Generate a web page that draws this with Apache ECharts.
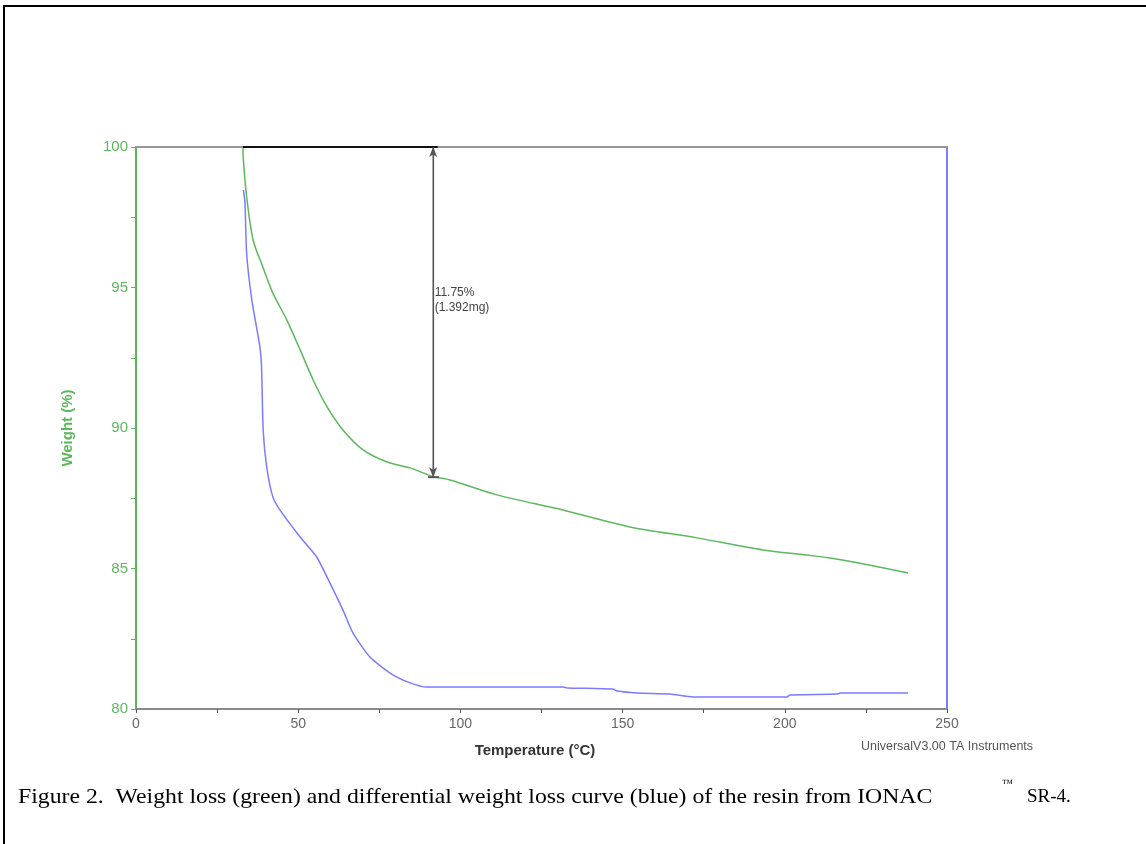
<!DOCTYPE html>
<html>
<head>
<meta charset="utf-8">
<script src="https://cdn.jsdelivr.net/npm/echarts@6/dist/echarts.min.js"></script>
<style>
html,body{margin:0;padding:0;background:#fff;}
#c{width:1146px;height:844px;}
</style>
</head>
<body>
<div id="c"></div>
<script>
// Temperature (°C) and weight (%) for the green weight-loss curve
const greenT = [33.0, 33.1, 34.1, 36.1, 39.1, 42.2, 46.5, 50.6, 54.6, 58.9, 63.8, 70.0, 77.4, 84.5, 91.6, 96.8, 111.2, 131.6, 152.3, 172.9, 193.3, 213.9, 238.0];
const greenW = [100.0, 99.54, 98.23, 96.69, 95.73, 94.80, 93.84, 92.78, 91.71, 90.75, 89.93, 89.22, 88.79, 88.58, 88.27, 88.15, 87.62, 87.08, 86.48, 86.09, 85.66, 85.37, 84.84];
// Blue differential weight-loss curve (plotted on same 80-100 scale)
const blueT = [33.1, 33.6, 34.1, 35.7, 38.2, 38.7, 39.2, 40.3, 42.2, 44.4, 50.6, 55.7, 59.8, 63.8, 66.9, 72.1, 78.3, 84.5, 89.6, 131.6, 132.9, 147.0, 148.3, 154.4, 164.6, 171.7, 200.7, 201.6, 216.1, 217.0, 238.0];
const blueW = [98.47, 98.01, 96.23, 94.56, 92.88, 92.17, 89.93, 88.61, 87.54, 87.08, 86.12, 85.41, 84.48, 83.52, 82.70, 81.85, 81.28, 80.93, 80.78, 80.78, 80.75, 80.71, 80.64, 80.57, 80.53, 80.43, 80.43, 80.50, 80.53, 80.57, 80.57];
// Annotation: step baseline and measured loss
const baselineT = [33.0, 93.0];
const baselineW = 100;
const stepT = 91.6;
const stepFrom = 100;
const stepTo = 88.25;
const stepLabel = ['11.75%', '(1.392mg)'];
const xTicks = [0, 50, 100, 150, 200, 250];
const yTicks = [80, 85, 90, 95, 100];

const chart = echarts.init(document.getElementById('c'), null, {renderer: 'canvas'});
const green = '#5cb85c';
const blue = '#7b7bff';
const grey = '#8a8a8a';
const sans = 'Liberation Sans, Arial, sans-serif';
const serif = 'Liberation Serif, Times New Roman, serif';
const caption = 'Figure 2.  Weight loss (green) and differential weight loss curve (blue) of the resin from IONAC';

chart.setOption({
  animation: false,
  backgroundColor: '#fff',
  grid: {left: 136, right: 199, top: 147, bottom: 135, containLabel: false},
  xAxis: [{
    type: 'value', min: 0, max: 250, interval: 25, position: 'bottom',
    axisLine: {onZero: false, lineStyle: {color: grey, width: 2}},
    axisTick: {show: true, length: 4, lineStyle: {color: '#555'}},
    axisLabel: {fontFamily: sans, fontSize: 14, color: '#666', margin: 8,
      formatter: v => xTicks.includes(v) ? String(v) : ''},
    splitLine: {show: false}
  }, {
    type: 'value', min: 0, max: 250, position: 'top',
    axisLine: {show: true, onZero: false, lineStyle: {color: '#999', width: 2}},
    axisTick: {show: false}, axisLabel: {show: false}, splitLine: {show: false}
  }],
  yAxis: [{
    type: 'value', min: 80, max: 100, interval: 2.5, position: 'left',
    axisLine: {show: true, onZero: false, lineStyle: {color: green, width: 2}},
    axisTick: {show: true, length: 5, lineStyle: {color: green}},
    axisLabel: {fontFamily: sans, fontSize: 15, color: green, margin: 8,
      formatter: v => yTicks.includes(v) ? String(v) : ''},
    splitLine: {show: false}
  }, {
    type: 'value', min: 80, max: 100, position: 'right',
    axisLine: {show: true, onZero: false, lineStyle: {color: blue, width: 2}},
    axisTick: {show: false}, axisLabel: {show: false}, splitLine: {show: false}
  }],
  series: [{
    type: 'line', name: 'Weight', symbol: 'none', smooth: 0.3,
    data: greenT.map((t, i) => [t, greenW[i]]),
    lineStyle: {color: green, width: 1.5},
    z: 3
  }, {
    type: 'line', name: 'Deriv', symbol: 'none', smooth: 0.2,
    data: blueT.map((t, i) => [t, blueW[i]]),
    lineStyle: {color: blue, width: 1.5},
    z: 3
  }, {
    type: 'line', name: 'baseline', symbol: 'none',
    data: baselineT.map(t => [t, baselineW]),
    lineStyle: {color: '#111', width: 2}, z: 5
  }, {
    type: 'line', name: 'step', symbol: 'none',
    data: [[stepT, stepFrom], [stepT, stepTo]],
    lineStyle: {color: '#555', width: 1.2}, z: 5,
    markLine: {
      silent: true, symbol: ['arrow', 'arrow'], symbolSize: [6, 10],
      lineStyle: {color: '#555', width: 1.2, type: 'solid'},
      label: {show: false},
      data: [[{coord: [stepT, stepFrom]}, {coord: [stepT, stepTo]}]]
    },
    markPoint: {
      silent: true, symbol: 'rect', symbolSize: [1, 1],
      itemStyle: {color: 'transparent'},
      label: {show: true, position: 'right', distance: 1, align: 'left',
        fontFamily: sans, fontSize: 12, color: '#444', lineHeight: 15,
        formatter: stepLabel.join('\n')},
      data: [{coord: [stepT, 94.55]}]
    }
  }, {
    type: 'line', name: 'stepfoot', symbol: 'none',
    data: [[stepT - 1.6, stepTo], [stepT + 1.8, stepTo]],
    lineStyle: {color: '#555', width: 2}, z: 5
  }],
  graphic: [
    {type: 'rect', shape: {x: 3, y: 5, width: 1143, height: 2}, style: {fill: '#000'}},
    {type: 'rect', shape: {x: 3, y: 5, width: 2, height: 839}, style: {fill: '#000'}},
    {type: 'text', x: 68, y: 428, rotation: Math.PI / 2,
      style: {text: 'Weight (%)', fontFamily: sans, fontSize: 15, fontWeight: 'bold', fill: green,
        align: 'center', verticalAlign: 'middle'}},
    {type: 'text', x: 535, y: 751,
      style: {text: 'Temperature (°C)', fontFamily: sans, fontSize: 15, fontWeight: 'bold', fill: '#333',
        align: 'center', verticalAlign: 'middle'}},
    {type: 'text', x: 861, y: 747,
      style: {text: 'UniversalV3.00 TA Instruments', fontFamily: sans, fontSize: 12.5, fill: '#555',
        align: 'left', verticalAlign: 'middle'}},
    {type: 'text', x: 18, y: 797, scaleX: 1.13,
      style: {text: caption,
        fontFamily: serif, fontSize: 21, fill: '#000', align: 'left', verticalAlign: 'middle'}},
    {type: 'text', x: 1002, y: 784,
      style: {text: '™', fontFamily: serif, fontSize: 11, fill: '#000', align: 'left', verticalAlign: 'middle'}},
    {type: 'text', x: 1027, y: 797,
      style: {text: 'SR-4.', fontFamily: serif, fontSize: 19, fill: '#000', align: 'left', verticalAlign: 'middle'}}
  ]
});
</script>
</body>
</html>
